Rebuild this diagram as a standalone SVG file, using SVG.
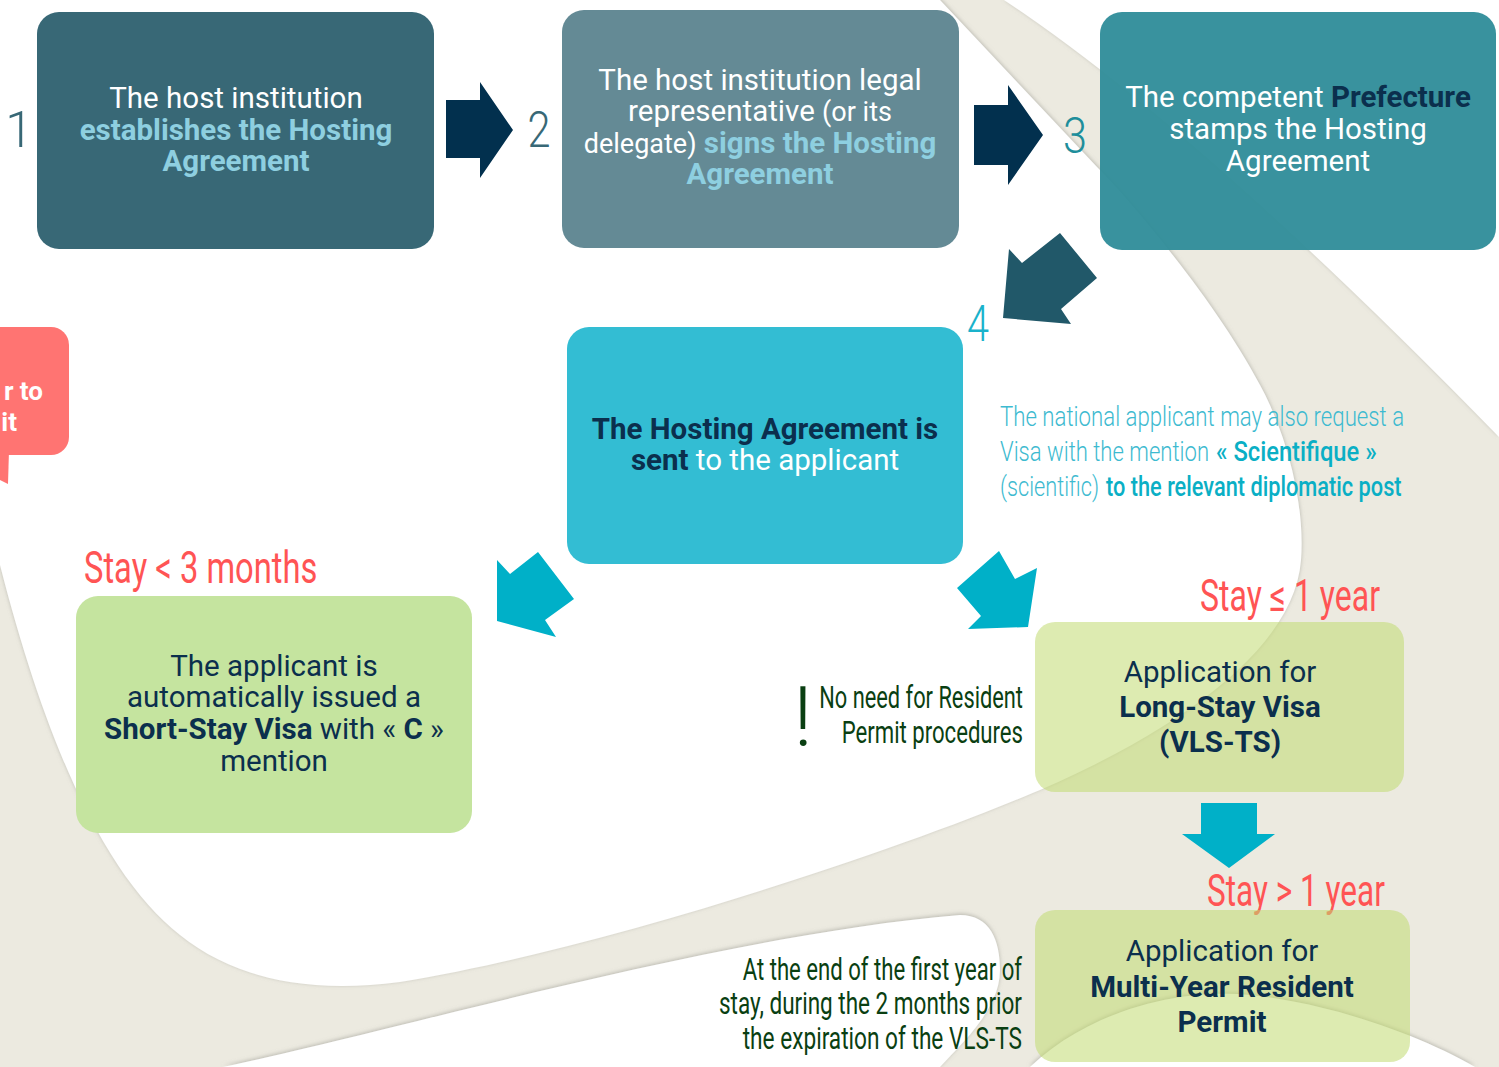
<svg xmlns="http://www.w3.org/2000/svg" width="1499" height="1067" viewBox="0 0 1499 1067">
<style>
.r{font-family:Roboto,"Liberation Sans",sans-serif;font-size:29.5px;text-anchor:middle}
.b{font-weight:700}
.w{fill:#ffffff}
.lb{fill:#8ECFE0}
.nv{fill:#0B2F4D}
.din{font-family:Roboto,"Liberation Sans",sans-serif;font-weight:300}
.dn{font-family:Roboto,"Liberation Sans",sans-serif;font-weight:400}
.num{font-family:Roboto,"Liberation Sans",sans-serif;font-weight:300;font-size:50px;text-anchor:middle}
.red{fill:#FF5454;font-size:45px}
.grn{fill:#0A3F12;font-size:32px;text-anchor:end}
.cy{fill:#3DBAD0;font-size:28px}
.cyb{fill:#0AAFC5;font-size:28px;font-family:Roboto,"Liberation Sans",sans-serif;font-weight:500}
.nav{fill:#02304E}
.cyan{fill:#00B0C8}
</style>
<defs>
<filter id="sh" x="-5%" y="-5%" width="110%" height="110%">
<feDropShadow dx="0" dy="-1" stdDeviation="2" flood-color="#8a8a84" flood-opacity="0.55"/>
</filter>
</defs>
<g id="background">
<rect x="0" y="0" width="1499" height="1067" fill="#ECEAE0"/>
<path d="M1004,0 L1499,0 L1499,437 Q1200,130 1004,0 Z" fill="#ffffff" filter="url(#sh)"/>
<path d="M0,0 L940,0 L1097,167 C1130,200 1215,300 1260,385 C1290,440 1305,510 1301,560 C1295,640 1200,720 1040,790 C900,850 600,950 400,982 C300,995 230,975 180,935 C110,880 50,760 0,565 Z" fill="#ffffff" filter="url(#sh)"/>
<path d="M223,1067 C400,1030 720,935 960,915 C990,915 1000,940 1000,970 C1000,1010 960,1045 940,1067 Z" fill="#ffffff" filter="url(#sh)"/>
<path d="M1030,1067 C1090,1010 1180,988 1250,995 C1330,1003 1420,1035 1475,1067 Z" fill="#ffffff" filter="url(#sh)"/>
</g>
<g id="connectors">
<polygon class="nav" points="446,100 480,100 480,82 513,130 480,178 480,158 446,158"/>
<polygon class="nav" points="974,105 1008,105 1008,85 1043,135 1008,185 1008,165 974,165"/>
<polygon fill="#215869" points="1003,318 1009,249 1022,263 1060,233 1097,278 1061,309 1071,324"/>
<polygon class="cyan" points="497,560 510,574 538,552 574,599 545,620 556,637 497,621"/>
<polygon class="cyan" points="957,588 999,551 1015,579 1037,568 1028,627 968,629 981,616"/>
<polygon class="cyan" points="1201,803 1257,803 1257,834 1275,834 1229,868 1182,834 1201,834"/>
</g>
<g id="numbers">
<text class="num" x="19" y="147" fill="#386876">1</text>
<text class="num" x="539" y="147" fill="#386876" textLength="23" lengthAdjust="spacingAndGlyphs">2</text>
<text class="num" x="1075" y="153" fill="#1E8E9B" textLength="24" lengthAdjust="spacingAndGlyphs">3</text>
<text class="num" x="978" y="341" fill="#1AB2CB" textLength="22" lengthAdjust="spacingAndGlyphs">4</text>
</g>
<g id="node-callout">
<rect x="-30" y="327" width="99" height="128" rx="18" fill="#FF7472"/>
<polygon points="0,450 9,450 8,484 0,480" fill="#FF7472"/>
<text class="r b w" x="43" y="400" style="text-anchor:end;font-size:26px">r to</text>
<text class="r b w" x="17" y="431" style="text-anchor:end;font-size:26px">it</text>
</g>
<g id="node-1">
<rect x="37" y="12" width="397" height="237" rx="22" fill="#386876"/>
<text class="r w" x="236" y="108">The host institution</text>
<text class="r b lb" x="236" y="140">establishes the Hosting</text>
<text class="r b lb" x="236" y="171">Agreement</text>
</g>
<g id="node-2">
<rect x="562" y="10" width="397" height="238" rx="22" fill="#648A95"/>
<text class="r w" x="760" y="90">The host institution legal</text>
<text class="r w" x="760" y="121">representative <tspan style="font-size:27px">(or its</tspan></text>
<text class="r" x="760" y="153"><tspan class="w" style="font-size:27px">delegate)</tspan> <tspan class="b lb">signs the Hosting</tspan></text>
<text class="r b lb" x="760" y="184">Agreement</text>
</g>
<g id="node-3">
<rect x="1100" y="12" width="396" height="238" rx="22" fill="#2E8C99" opacity="0.95"/>
<text class="r w" x="1298" y="107">The competent <tspan class="b" fill="#0B2F4D">Prefecture</tspan></text>
<text class="r w" x="1298" y="139">stamps the Hosting</text>
<text class="r w" x="1298" y="171">Agreement</text>
</g>
<g id="node-4">
<rect x="567" y="327" width="396" height="237" rx="22" fill="#33BDD3"/>
<text class="r b nv" x="765" y="439">The Hosting Agreement is</text>
<text class="r" x="765" y="470"><tspan class="b nv">sent</tspan><tspan class="w"> to the applicant</tspan></text>
</g>
<g id="note-scientifique">
<text class="din cy" transform="matrix(0.78,0,0,1,1000,426)" x="0" y="0" textLength="518" lengthAdjust="spacingAndGlyphs">The national applicant may also request a</text>
<text class="din cy" transform="matrix(0.78,0,0,1,1000,461)" x="0" y="0" textLength="268" lengthAdjust="spacingAndGlyphs">Visa with the mention</text>
<text class="cyb" transform="matrix(0.78,0,0,1,1216,461)" x="0" y="0" textLength="206" lengthAdjust="spacingAndGlyphs">« Scientifique »</text>
<text class="din cy" transform="matrix(0.78,0,0,1,1000,496)" x="0" y="0" textLength="127" lengthAdjust="spacingAndGlyphs">(scientific)</text>
<text class="cyb" transform="matrix(0.78,0,0,1,1106,496)" x="0" y="0" textLength="379" lengthAdjust="spacingAndGlyphs">to the relevant diplomatic post</text>
</g>
<g id="node-short-stay">
<text class="dn red" transform="matrix(0.72,0,0,1,84,583)" x="0" y="0" textLength="324" lengthAdjust="spacingAndGlyphs">Stay &lt; 3 months</text>
<rect x="76" y="596" width="396" height="237" rx="22" fill="#C5E49F"/>
<text class="r nv" x="274" y="676">The applicant is</text>
<text class="r nv" x="274" y="707">automatically issued a</text>
<text class="r nv" x="274" y="739"><tspan class="b">Short-Stay Visa</tspan> with « <tspan class="b">C</tspan> »</text>
<text class="r nv" x="274" y="771">mention</text>
</g>
<g id="note-no-need">
<text class="din" x="803" y="746" fill="#0A3F12" style="font-size:84px;text-anchor:middle">!</text>
<text class="dn grn" transform="matrix(0.7,0,0,1,1023,708)" x="0" y="0" textLength="291" lengthAdjust="spacingAndGlyphs">No need for Resident</text>
<text class="dn grn" transform="matrix(0.7,0,0,1,1023,743)" x="0" y="0" textLength="259" lengthAdjust="spacingAndGlyphs">Permit procedures</text>
</g>
<g id="node-long-stay">
<text class="dn red" transform="matrix(0.72,0,0,1,1200,611)" x="0" y="0" textLength="250" lengthAdjust="spacingAndGlyphs">Stay ≤ 1 year</text>
<rect x="1035" y="622" width="369" height="170" rx="20" fill="#C1DA71" opacity="0.55"/>
<text class="r nv" x="1220" y="682">Application for</text>
<text class="r b nv" x="1220" y="717">Long-Stay Visa</text>
<text class="r b nv" x="1220" y="752">(VLS-TS)</text>
</g>
<g id="note-end-year">
<text class="dn grn" transform="matrix(0.7,0,0,1,1022,980)" x="0" y="0" textLength="399" lengthAdjust="spacingAndGlyphs">At the end of the first year of</text>
<text class="dn grn" transform="matrix(0.7,0,0,1,1022,1014)" x="0" y="0" textLength="433" lengthAdjust="spacingAndGlyphs">stay, during the 2 months prior</text>
<text class="dn grn" transform="matrix(0.7,0,0,1,1022,1049)" x="0" y="0" textLength="399" lengthAdjust="spacingAndGlyphs">the expiration of the VLS-TS</text>
</g>
<g id="node-multi-year">
<text class="dn red" transform="matrix(0.72,0,0,1,1207,906)" x="0" y="0" textLength="247" lengthAdjust="spacingAndGlyphs">Stay &gt; 1 year</text>
<rect x="1035" y="910" width="375" height="152" rx="20" fill="#C1DA71" opacity="0.55"/>
<text class="r nv" x="1222" y="961">Application for</text>
<text class="r b nv" x="1222" y="997">Multi-Year Resident</text>
<text class="r b nv" x="1222" y="1032">Permit</text>
</g>
</svg>
